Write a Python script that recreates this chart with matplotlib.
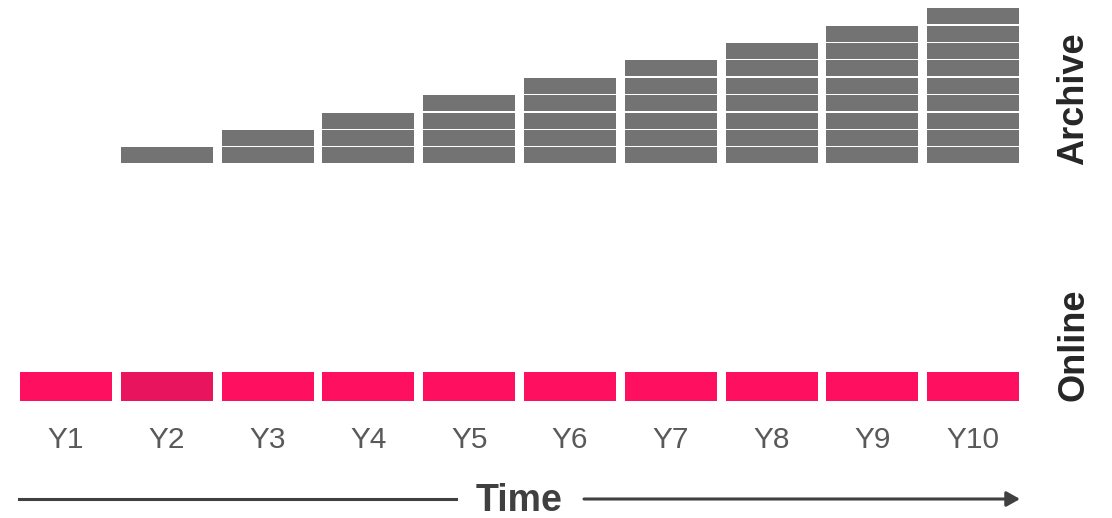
import matplotlib.pyplot as plt
from matplotlib.patches import FancyArrowPatch

plt.rcParams['font.family'] = ['Liberation Sans', 'DejaVu Sans']

# data
years = ['Y1', 'Y2', 'Y3', 'Y4', 'Y5', 'Y6', 'Y7', 'Y8', 'Y9', 'Y10']
archive_blocks = [0, 1, 2, 3, 4, 5, 6, 7, 8, 9]
online_colors = ['#ff0f5f', '#e8145e', '#ff0f5f', '#ff0f5f', '#ff0f5f',
                 '#ff0f5f', '#ff0f5f', '#ff0f5f', '#ff0f5f', '#ff0f5f']

W, H = 1112, 518
fig = plt.figure(figsize=(W / 100, H / 100), dpi=100)
ax = fig.add_axes([0, 0, 1, 1])

# pixel layout -> data units
pitch_x = 100.8      # px between year centres
first_x = 66         # px centre of Y1
base_y = 164.7       # px (from top) where archive stacks sit
block = 17.38        # px per archive block
ax.set_xlim(-first_x / pitch_x, (W - first_x) / pitch_x)
ax.set_ylim(-(H - base_y) / block, base_y / block)
ax.axis('off')

gray = '#737373'
xs = list(range(len(years)))
bar_w = 92 / pitch_x
gap = 1.4 / block

# archive stacks
for i, n in zip(xs, archive_blocks):
    for k in range(n):
        ax.bar(i, 1 - gap, bottom=k + gap, width=bar_w, color=gray, linewidth=0)

# online row
on_top = -(372 - base_y) / block
on_bot = -(400.7 - base_y) / block
ax.bar(xs, on_top - on_bot, bottom=on_bot, width=bar_w, color=online_colors, linewidth=0)

# year labels
lab_y = -(440 - base_y) / block
for i, name in zip(xs, years):
    ax.text(i, lab_y, name, ha='center', va='center', fontsize=21.5, color='#595959')

# side labels
fig.text(1074 / W, 1 - 99 / H, 'Archive', rotation=90, ha='center', va='center',
         fontsize=26, fontweight='bold', color='#262626')
fig.text(1074 / W, 1 - 345 / H, 'Online', rotation=90, ha='center', va='center',
         fontsize=26, fontweight='bold', color='#262626')

# time arrow
ty = 1 - 499 / H
fig.text(519 / W, 1 - 501 / H, 'Time', ha='center', va='center',
         fontsize=27, fontweight='bold', color='#404040')
fig.add_artist(plt.Line2D([19 / W, 456 / W], [ty, ty], color='#404040', lw=2.2,
                          transform=fig.transFigure))
arr = FancyArrowPatch((584 / W, ty), (1020 / W, ty), transform=fig.transFigure,
                      arrowstyle='-|>,head_length=8,head_width=4.5',
                      color='#404040', lw=2.2, shrinkA=0, shrinkB=0)
fig.add_artist(arr)

fig.savefig('out.png', dpi=100)
